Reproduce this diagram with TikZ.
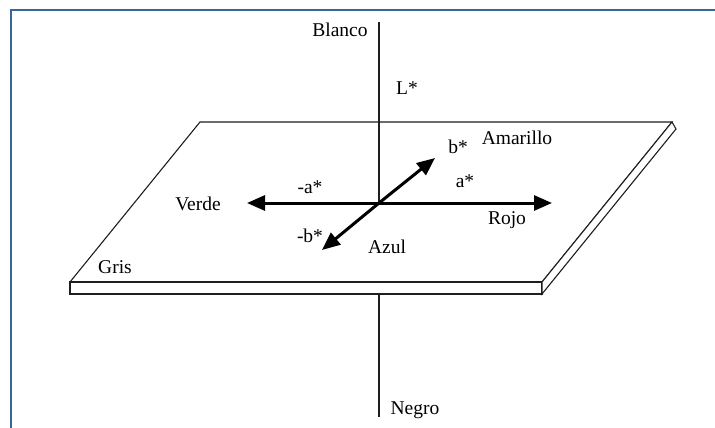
\documentclass[tikz,border=0pt]{standalone}
\usepackage{fontspec}
\setmainfont{Liberation Serif}
\usetikzlibrary{arrows.meta}
\definecolor{framecol}{RGB}{58,102,153}
\definecolor{linecol}{RGB}{30,30,30}
\tikzset{
  framestyle/.style={draw=framecol, line width=2.4pt},
  platestyle/.style={draw=linecol, line width=1.1pt, line join=miter},
  axisstyle/.style={draw=linecol, line width=1.1pt},
  bigarrow/.style={draw=black, line width=3pt, -{Triangle[length=18pt,width=15pt]}},
  lbl/.style={anchor=base, inner sep=0pt, font=\fontsize{19.5}{21}\selectfont}
}
\begin{document}
\begin{tikzpicture}[x=1pt,y=-1pt]
\useasboundingbox (0,0) rectangle (715,428);
\fill[white] (0,0) rectangle (715,428);
% frame
\draw[framestyle] (715,10) -- (11,10) -- (11,428);
% plate
\coordinate (tl) at (200,122);
\coordinate (tr) at (672,122);
\coordinate (fl) at (70,282);
\coordinate (fr) at (542,282);
\coordinate (bl) at (70,294);
\coordinate (br) at (542,294);
\coordinate (sr) at (676,129);
\draw[platestyle, fill=white] (tl) -- (tr) -- (fr) -- (fl) -- cycle;
\draw[platestyle, fill=white] (fl) -- (fr) -- (br) -- (bl) -- cycle;
\draw[platestyle, fill=white] (tr) -- (sr) -- (br) -- (fr) -- cycle;
% axes
\coordinate (c) at (379,203);
\coordinate (ltop) at (379,22);
\coordinate (lbot0) at (379,295);
\coordinate (lbot) at (379,417);
\draw[axisstyle] (ltop) -- (c);
\draw[axisstyle] (lbot0) -- (lbot);
\coordinate (aneg) at (247,203);
\coordinate (apos) at (552,203);
\coordinate (bpos) at (435,158);
\coordinate (bneg) at (322,250);
\draw[bigarrow] (c) -- (aneg);
\draw[bigarrow] (c) -- (apos);
\draw[bigarrow] (c) -- (bpos);
\draw[bigarrow] (c) -- (bneg);
% labels
\node[lbl] (blanco) at (340,37) {Blanco};
\node[lbl] (lstar) at (407,95) {L*};
\node[lbl] (amarillo) at (517,144) {Amarillo};
\node[lbl] (bstar) at (458,153) {b*};
\node[lbl] (astar) at (465,187) {a*};
\node[lbl] (rojo) at (507,224) {Rojo};
\node[lbl] (azul) at (387,253) {Azul};
\node[lbl] (mbstar) at (310,242) {-b*};
\node[lbl] (gris) at (115,273) {Gris};
\node[lbl] (verde) at (198,210) {Verde};
\node[lbl] (mastar) at (310,193) {-a*};
\node[lbl] (negro) at (415,414) {Negro};
\end{tikzpicture}
\end{document}
